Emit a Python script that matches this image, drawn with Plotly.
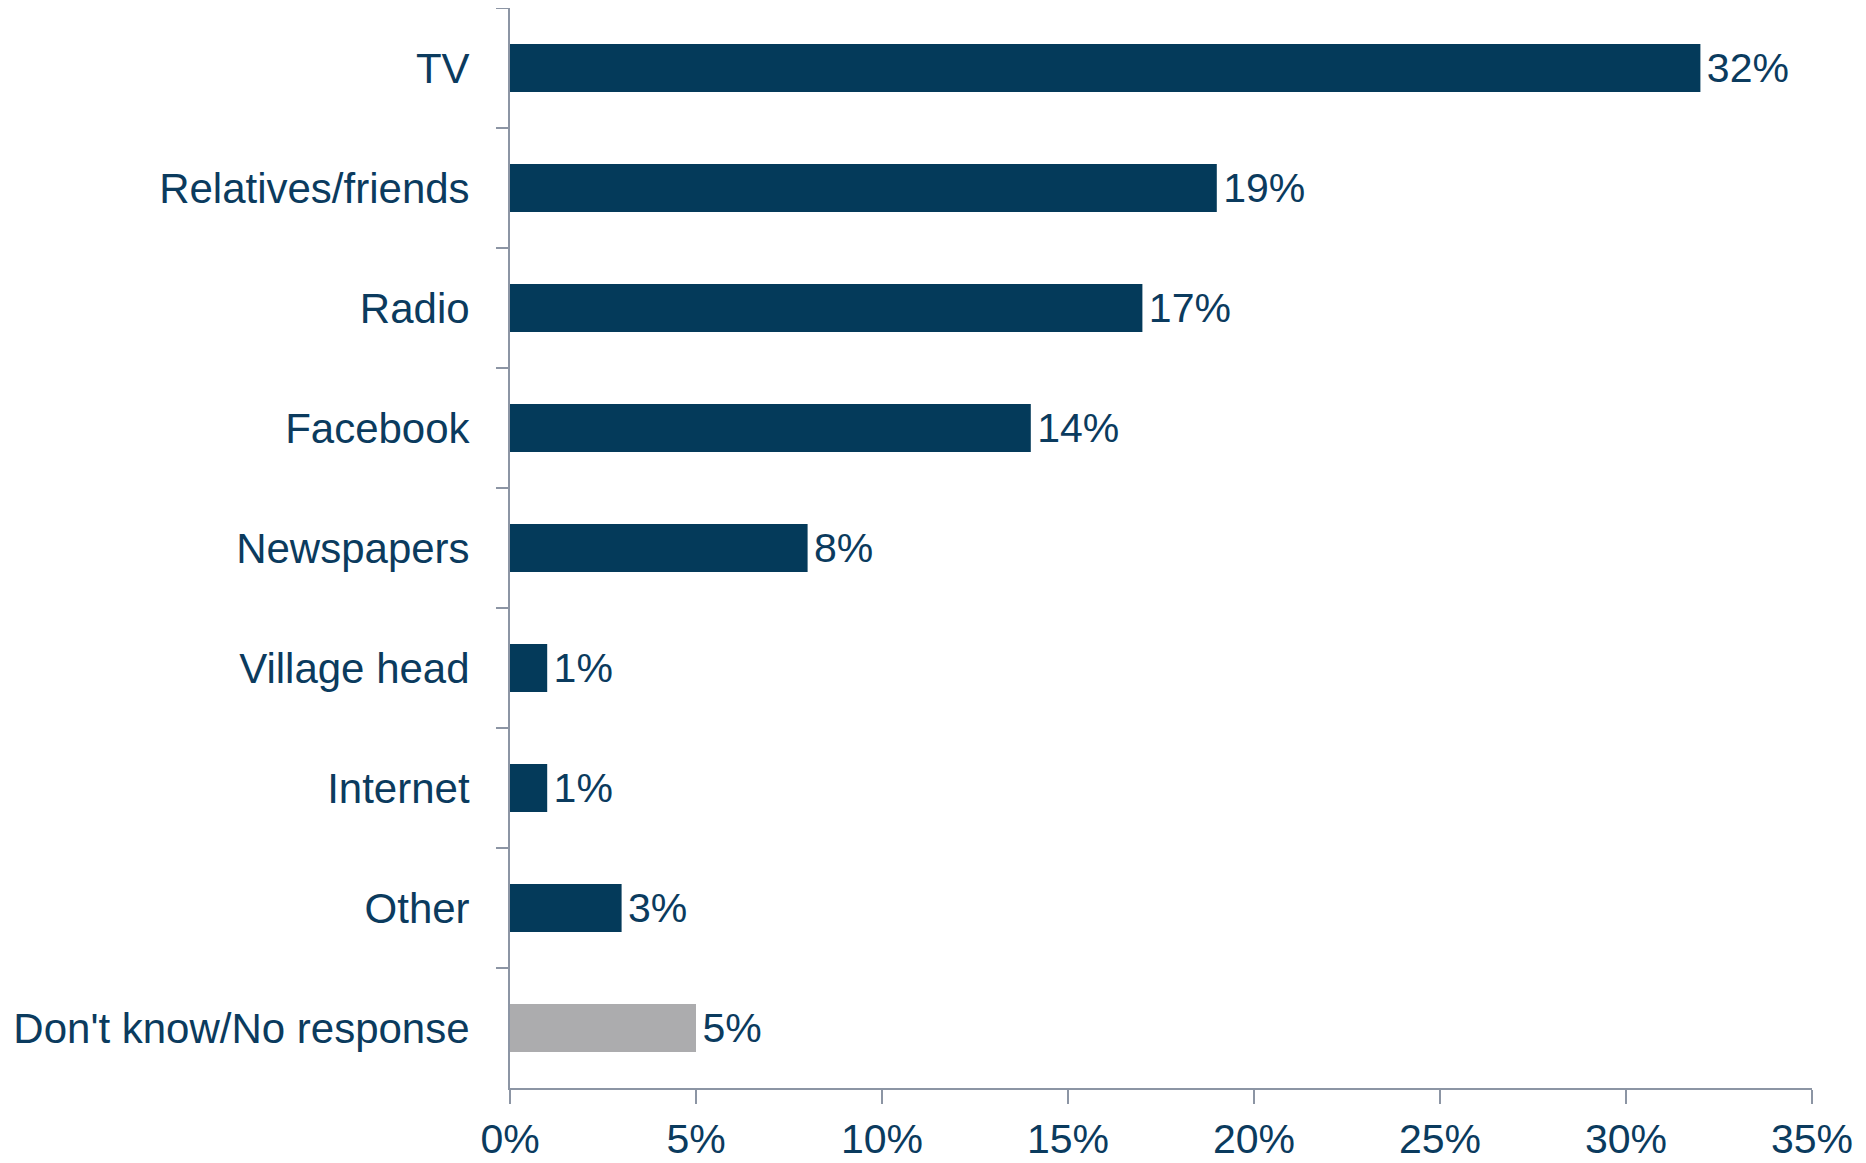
import plotly.graph_objs as go

categories = ["TV", "Relatives/friends", "Radio", "Facebook", "Newspapers",
              "Village head", "Internet", "Other", "Don't know/No response"]
values = [32, 19, 17, 14, 8, 1, 1, 3, 5]
labels = ["32%", "19%", "17%", "14%", "8%", "1%", "1%", "3%", "5%"]
bar_colors = ["#043a5a"] * 8 + ["#acacae"]
x_ticks = [0, 5, 10, 15, 20, 25, 30, 35]
x_ticktext = ["0%", "5%", "10%", "15%", "20%", "25%", "30%", "35%"]

navy = "#0b3b5e"
axis_col = "#8c95a4"
font_name = "Liberation Sans, Arial, sans-serif"
fsize = 41

trace = go.Bar(
    y=categories, x=values, orientation="h",
    marker=dict(color=bar_colors, line=dict(width=0)),
    text=labels, texttemplate="\u200a%{text}",
    textposition="outside", cliponaxis=False,
    textfont=dict(family=font_name, size=fsize, color=navy),
)

fig = go.Figure(data=[trace])
fig.update_layout(
    width=1866, height=1163,
    plot_bgcolor="white", paper_bgcolor="white",
    showlegend=False,
    bargap=0.6,
    margin=dict(l=502, r=62, t=0, b=83, pad=0),
    font=dict(family=font_name, size=fsize, color=navy),
    xaxis=dict(
        range=[0, 35], tickvals=x_ticks, ticktext=x_ticktext,
        showgrid=False, zeroline=False,
        showline=True, linecolor=axis_col, linewidth=2,
        ticks="outside", ticklen=14, tickwidth=2, tickcolor=axis_col,
        ticklabelstandoff=0,
        tickfont=dict(family=font_name, size=fsize, color=navy),
    ),
    yaxis=dict(
        autorange="reversed", type="category",
        showgrid=False, zeroline=False,
        showline=True, linecolor=axis_col, linewidth=2,
        ticks="outside", tickson="boundaries", ticklen=12, tickwidth=2, tickcolor=axis_col,
        ticklabelstandoff=30,
        tickfont=dict(family=font_name, size=42, color=navy),
    ),
)

fig.write_html("out.html")
